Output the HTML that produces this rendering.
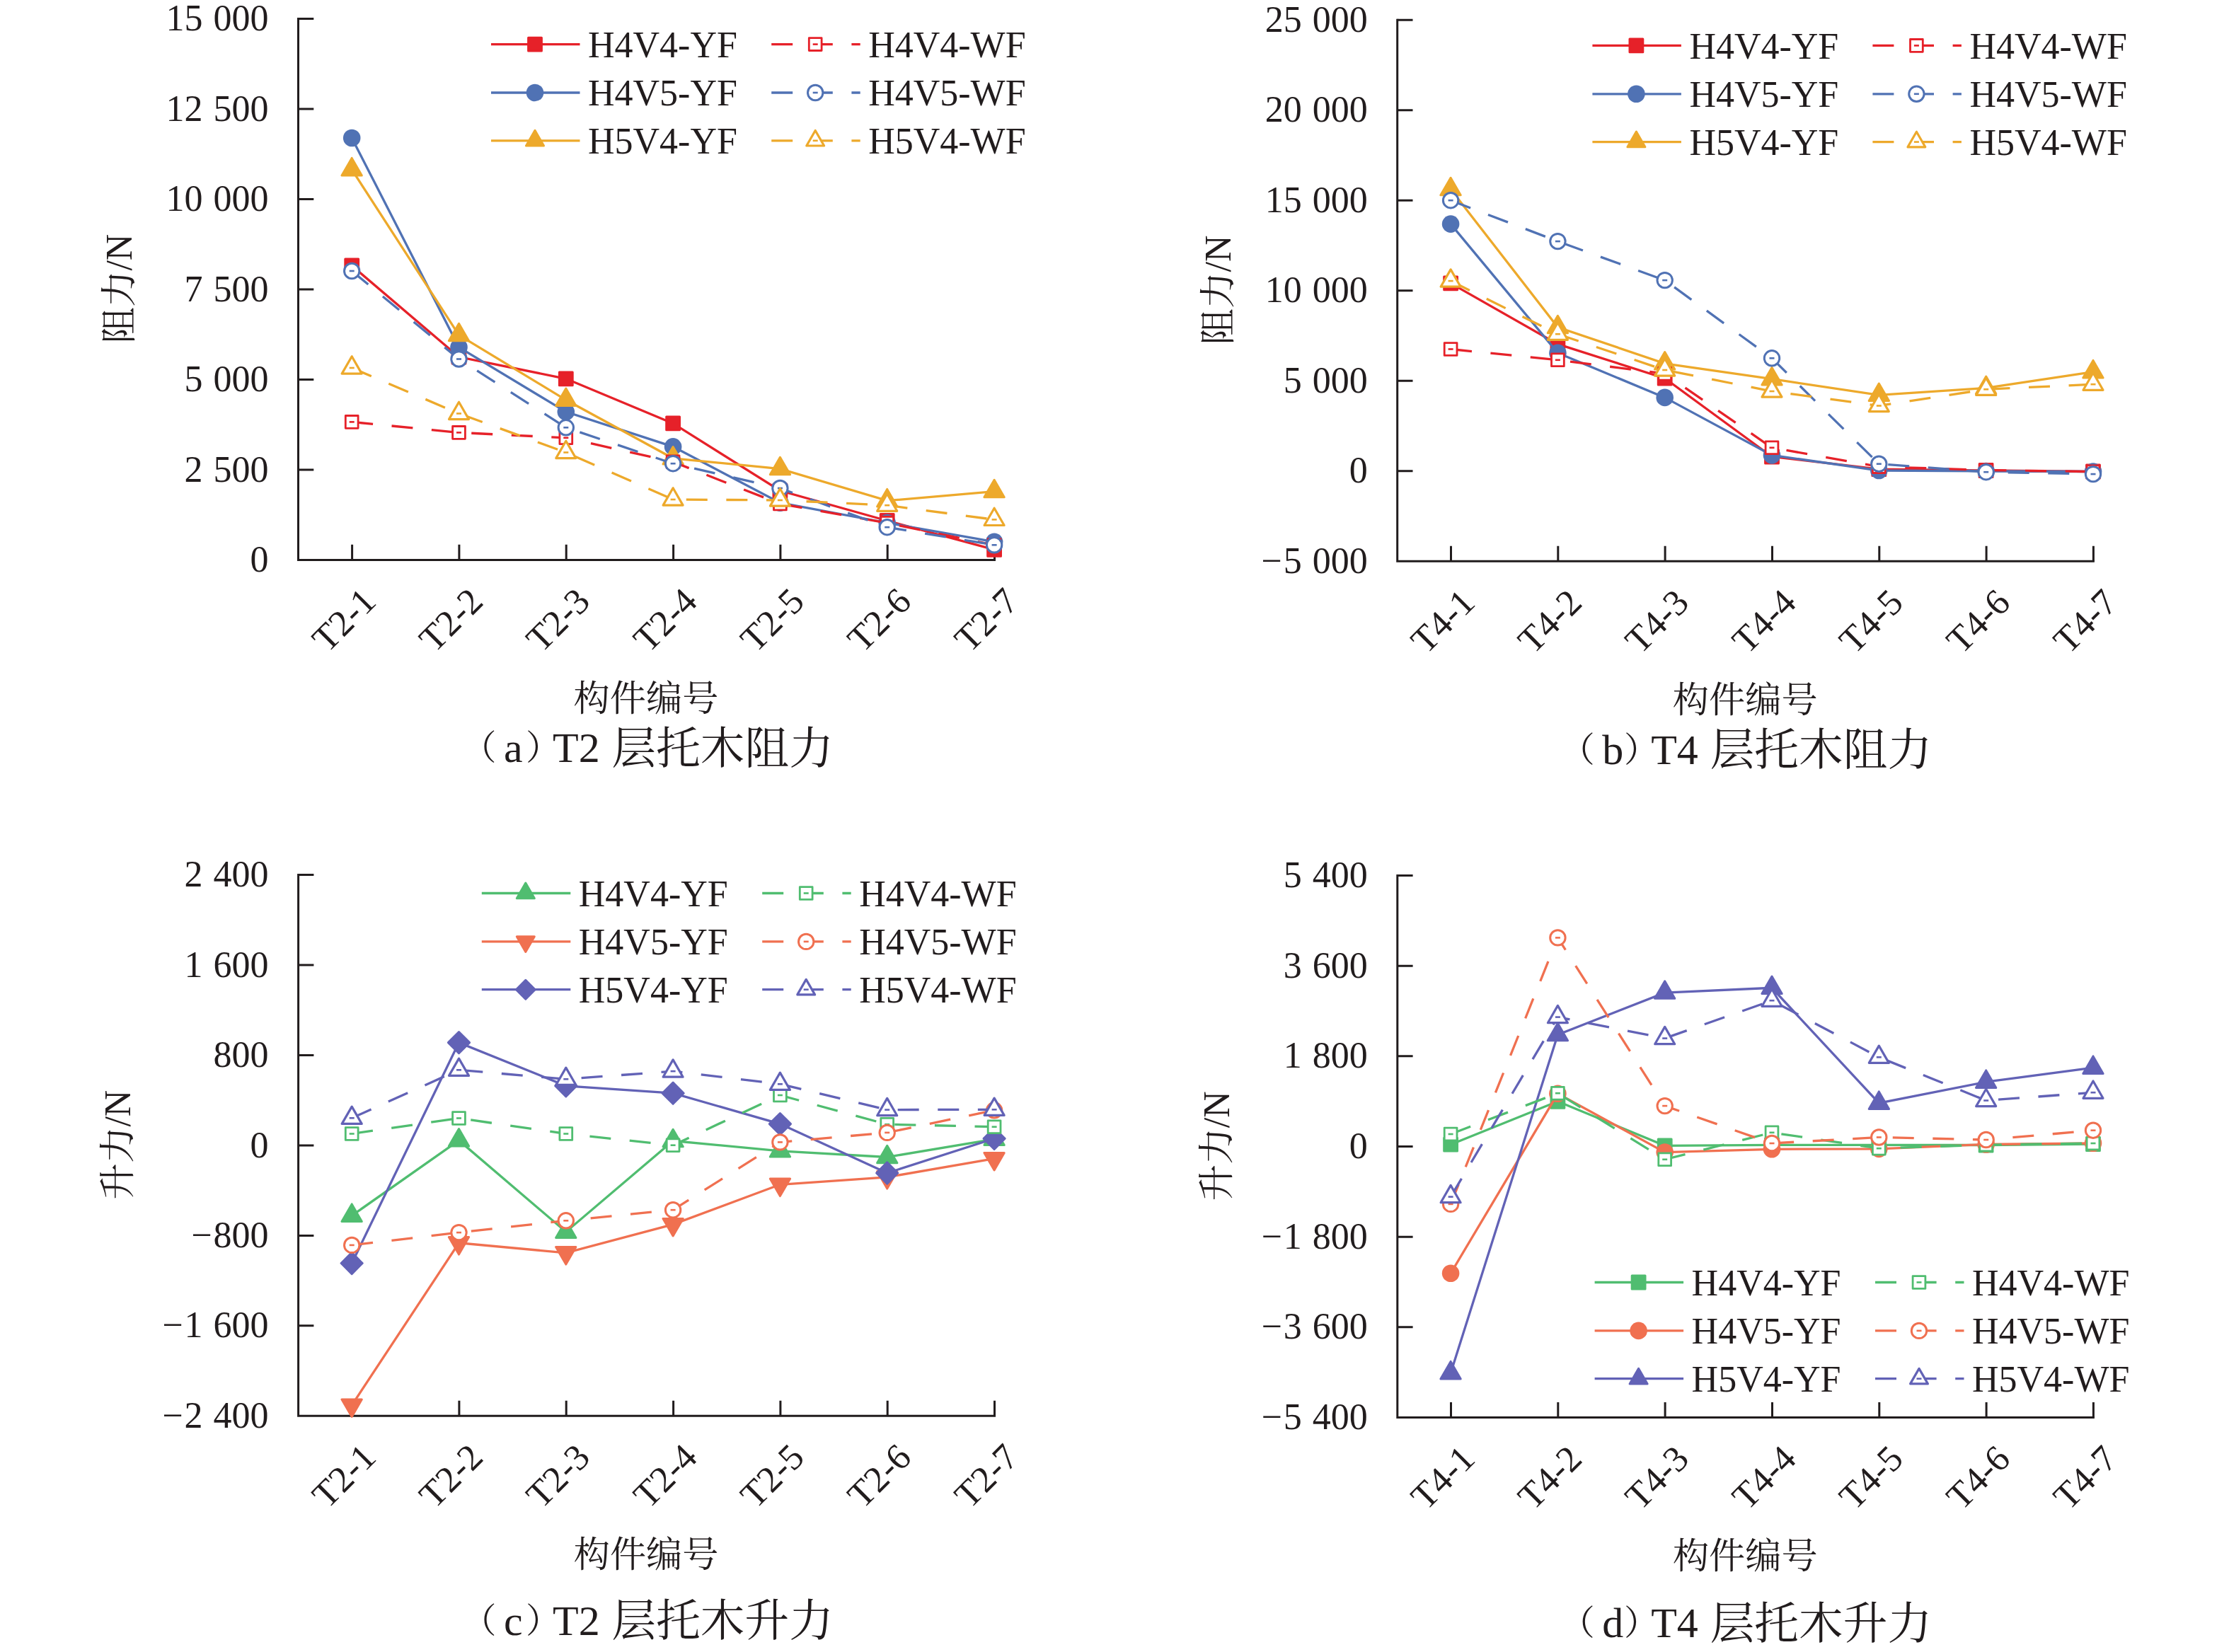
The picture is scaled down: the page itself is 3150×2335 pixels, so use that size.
<!DOCTYPE html>
<html lang="zh"><head><meta charset="utf-8"><title>托木阻力与升力</title>
<style>
html,body{margin:0;padding:0;background:#fff}
svg{display:block}
text{font-family:"Liberation Serif","Noto Serif CJK SC",serif;fill:#211c1d}
</style></head><body>
<svg width="3150" height="2335" viewBox="0 0 3150 2335">
<rect width="3150" height="2335" fill="#fff"/>
<g>
<g stroke="#211c1d" stroke-width="3" fill="none">
<path d="M421.5 25 V791.4 H1407"/>
<path d="M421.5 26.5h21.8M421.5 154h21.8M421.5 281.5h21.8M421.5 408.9h21.8M421.5 536.4h21.8M421.5 663.9h21.8M497.6 791.4v-21.6M648.9 791.4v-21.6M800.2 791.4v-21.6M951.6 791.4v-21.6M1102.9 791.4v-21.6M1254.2 791.4v-21.6M1405.5 791.4v-21.6"/>
</g>
<g font-size="52" text-anchor="end" word-spacing="2">
<text x="379.5" y="43.1">15 000</text>
<text x="379.5" y="170.6">12 500</text>
<text x="379.5" y="298.1">10 000</text>
<text x="379.5" y="425.6">7 500</text>
<text x="379.5" y="553">5 000</text>
<text x="379.5" y="680.5">2 500</text>
<text x="379.5" y="808">0</text>
</g>
<g font-size="52" text-anchor="end">
<text transform="translate(533.9 852.8) rotate(-45)">T2-1</text>
<text transform="translate(685.2 852.8) rotate(-45)">T2-2</text>
<text transform="translate(836.5 852.8) rotate(-45)">T2-3</text>
<text transform="translate(987.9 852.8) rotate(-45)">T2-4</text>
<text transform="translate(1139.2 852.8) rotate(-45)">T2-5</text>
<text transform="translate(1290.5 852.8) rotate(-45)">T2-6</text>
<text transform="translate(1441.8 852.8) rotate(-45)">T2-7</text>
</g>
<text transform="translate(185.6 408.1) rotate(-90)" text-anchor="middle" font-size="51.5">阻力<tspan font-size="52">/N</tspan></text>
<text x="913" y="1004.6" text-anchor="middle" font-size="51.2">构件编号</text>
<text x="652.6" y="1074.3" font-size="49">（</text>
<text x="712" y="1077.3" font-size="60">a</text>
<text x="742.9" y="1074.3" font-size="49">）</text>
<text x="781" y="1077.3" font-size="60">T2</text>
<text x="864.5" y="1078.7" font-size="62.7">层托木阻力</text>
<polyline points="497.2,375.5 648.5,504.5 799.8,535.3 951.1,598.4 1102.4,693.5 1253.7,736 1405.1,776.9" fill="none" stroke="#e62129" stroke-width="3.3"/>
<rect x="487.8" y="366.1" width="18.8" height="18.8" fill="#e62129" stroke="#e62129" stroke-width="3" stroke-linejoin="round"/><rect x="639.1" y="495.1" width="18.8" height="18.8" fill="#e62129" stroke="#e62129" stroke-width="3" stroke-linejoin="round"/><rect x="790.4" y="525.9" width="18.8" height="18.8" fill="#e62129" stroke="#e62129" stroke-width="3" stroke-linejoin="round"/><rect x="941.7" y="589" width="18.8" height="18.8" fill="#e62129" stroke="#e62129" stroke-width="3" stroke-linejoin="round"/><rect x="1093" y="684.1" width="18.8" height="18.8" fill="#e62129" stroke="#e62129" stroke-width="3" stroke-linejoin="round"/><rect x="1244.3" y="726.6" width="18.8" height="18.8" fill="#e62129" stroke="#e62129" stroke-width="3" stroke-linejoin="round"/><rect x="1395.7" y="767.5" width="18.8" height="18.8" fill="#e62129" stroke="#e62129" stroke-width="3" stroke-linejoin="round"/>
<polyline points="497.2,195 648.5,490.8 799.8,582.1 951.1,631.4 1102.4,710.6 1253.7,739 1405.1,765.8" fill="none" stroke="#5072b4" stroke-width="3.3"/>
<circle cx="497.2" cy="195" r="12.3" fill="#5072b4"/><circle cx="648.5" cy="490.8" r="12.3" fill="#5072b4"/><circle cx="799.8" cy="582.1" r="12.3" fill="#5072b4"/><circle cx="951.1" cy="631.4" r="12.3" fill="#5072b4"/><circle cx="1102.4" cy="710.6" r="12.3" fill="#5072b4"/><circle cx="1253.7" cy="739" r="12.3" fill="#5072b4"/><circle cx="1405.1" cy="765.8" r="12.3" fill="#5072b4"/>
<polyline points="497.2,239.7 648.5,473.6 799.8,565.3 951.1,647.8 1102.4,662.6 1253.7,707.7 1405.1,694.6" fill="none" stroke="#eda92b" stroke-width="3.3"/>
<polygon points="497.2,223.4 483,247.9 511.3,247.9" fill="#eda92b" stroke="#eda92b" stroke-width="3" stroke-linejoin="round"/><polygon points="648.5,457.3 634.3,481.8 662.6,481.8" fill="#eda92b" stroke="#eda92b" stroke-width="3" stroke-linejoin="round"/><polygon points="799.8,549 785.6,573.5 813.9,573.5" fill="#eda92b" stroke="#eda92b" stroke-width="3" stroke-linejoin="round"/><polygon points="951.1,631.5 937,656 965.3,656" fill="#eda92b" stroke="#eda92b" stroke-width="3" stroke-linejoin="round"/><polygon points="1102.4,646.3 1088.3,670.8 1116.6,670.8" fill="#eda92b" stroke="#eda92b" stroke-width="3" stroke-linejoin="round"/><polygon points="1253.7,691.4 1239.6,715.9 1267.9,715.9" fill="#eda92b" stroke="#eda92b" stroke-width="3" stroke-linejoin="round"/><polygon points="1405.1,678.3 1390.9,702.8 1419.2,702.8" fill="#eda92b" stroke="#eda92b" stroke-width="3" stroke-linejoin="round"/>
<polyline points="497.2,596.4 648.5,611.4 799.8,618.8 951.1,652.8 1102.4,712 1253.7,739.3 1405.1,770.5" fill="none" stroke="#e62129" stroke-width="3.3" stroke-dasharray="30 26.6"/>
<rect x="488.3" y="587.5" width="17.8" height="17.8" fill="#fff" stroke="#e62129" stroke-width="2.8" stroke-linejoin="round"/><rect x="493.7" y="595.1" width="7" height="2.6" fill="#e62129"/><rect x="639.6" y="602.5" width="17.8" height="17.8" fill="#fff" stroke="#e62129" stroke-width="2.8" stroke-linejoin="round"/><rect x="645" y="610.1" width="7" height="2.6" fill="#e62129"/><rect x="790.9" y="609.9" width="17.8" height="17.8" fill="#fff" stroke="#e62129" stroke-width="2.8" stroke-linejoin="round"/><rect x="796.3" y="617.5" width="7" height="2.6" fill="#e62129"/><rect x="942.2" y="643.9" width="17.8" height="17.8" fill="#fff" stroke="#e62129" stroke-width="2.8" stroke-linejoin="round"/><rect x="947.6" y="651.5" width="7" height="2.6" fill="#e62129"/><rect x="1093.5" y="703.1" width="17.8" height="17.8" fill="#fff" stroke="#e62129" stroke-width="2.8" stroke-linejoin="round"/><rect x="1098.9" y="710.7" width="7" height="2.6" fill="#e62129"/><rect x="1244.8" y="730.4" width="17.8" height="17.8" fill="#fff" stroke="#e62129" stroke-width="2.8" stroke-linejoin="round"/><rect x="1250.2" y="738" width="7" height="2.6" fill="#e62129"/><rect x="1396.2" y="761.6" width="17.8" height="17.8" fill="#fff" stroke="#e62129" stroke-width="2.8" stroke-linejoin="round"/><rect x="1401.6" y="769.2" width="7" height="2.6" fill="#e62129"/>
<polyline points="497.2,383 648.5,507.5 799.8,604.3 951.1,655.2 1102.4,690 1253.7,745.2 1405.1,770.3" fill="none" stroke="#5072b4" stroke-width="3.3" stroke-dasharray="30 26.6"/>
<circle cx="497.2" cy="383" r="10.7" fill="#fff" stroke="#5072b4" stroke-width="3"/><rect x="493.7" y="381.7" width="7" height="2.6" fill="#5072b4"/><circle cx="648.5" cy="507.5" r="10.7" fill="#fff" stroke="#5072b4" stroke-width="3"/><rect x="645" y="506.2" width="7" height="2.6" fill="#5072b4"/><circle cx="799.8" cy="604.3" r="10.7" fill="#fff" stroke="#5072b4" stroke-width="3"/><rect x="796.3" y="603" width="7" height="2.6" fill="#5072b4"/><circle cx="951.1" cy="655.2" r="10.7" fill="#fff" stroke="#5072b4" stroke-width="3"/><rect x="947.6" y="653.9" width="7" height="2.6" fill="#5072b4"/><circle cx="1102.4" cy="690" r="10.7" fill="#fff" stroke="#5072b4" stroke-width="3"/><rect x="1098.9" y="688.7" width="7" height="2.6" fill="#5072b4"/><circle cx="1253.7" cy="745.2" r="10.7" fill="#fff" stroke="#5072b4" stroke-width="3"/><rect x="1250.2" y="743.9" width="7" height="2.6" fill="#5072b4"/><circle cx="1405.1" cy="770.3" r="10.7" fill="#fff" stroke="#5072b4" stroke-width="3"/><rect x="1401.6" y="769" width="7" height="2.6" fill="#5072b4"/>
<polyline points="497.2,520 648.5,584.5 799.8,639.5 951.1,706 1102.4,707 1253.7,714.2 1405.1,734.4" fill="none" stroke="#eda92b" stroke-width="3.3" stroke-dasharray="30 26.6"/>
<polygon points="497.2,503.8 483.2,528.1 511.2,528.1" fill="#fff" stroke="#eda92b" stroke-width="3.2" stroke-linejoin="round"/><rect x="493.7" y="518.7" width="7" height="2.6" fill="#eda92b"/><polygon points="648.5,568.3 634.5,592.6 662.5,592.6" fill="#fff" stroke="#eda92b" stroke-width="3.2" stroke-linejoin="round"/><rect x="645" y="583.2" width="7" height="2.6" fill="#eda92b"/><polygon points="799.8,623.3 785.8,647.6 813.8,647.6" fill="#fff" stroke="#eda92b" stroke-width="3.2" stroke-linejoin="round"/><rect x="796.3" y="638.2" width="7" height="2.6" fill="#eda92b"/><polygon points="951.1,689.8 937.1,714.1 965.1,714.1" fill="#fff" stroke="#eda92b" stroke-width="3.2" stroke-linejoin="round"/><rect x="947.6" y="704.7" width="7" height="2.6" fill="#eda92b"/><polygon points="1102.4,690.8 1088.4,715.1 1116.4,715.1" fill="#fff" stroke="#eda92b" stroke-width="3.2" stroke-linejoin="round"/><rect x="1098.9" y="705.7" width="7" height="2.6" fill="#eda92b"/><polygon points="1253.7,698 1239.7,722.3 1267.7,722.3" fill="#fff" stroke="#eda92b" stroke-width="3.2" stroke-linejoin="round"/><rect x="1250.2" y="712.9" width="7" height="2.6" fill="#eda92b"/><polygon points="1405.1,718.2 1391.1,742.5 1419.1,742.5" fill="#fff" stroke="#eda92b" stroke-width="3.2" stroke-linejoin="round"/><rect x="1401.6" y="733.1" width="7" height="2.6" fill="#eda92b"/>
<g font-size="52">
<path d="M694 62.6h125.5" stroke="#e62129" stroke-width="3.3"/>
<rect x="746.6" y="53.2" width="18.8" height="18.8" fill="#e62129" stroke="#e62129" stroke-width="3" stroke-linejoin="round"/>
<text x="831" y="80.9">H4V4-YF</text>
<path d="M694 131h125.5" stroke="#5072b4" stroke-width="3.3"/>
<circle cx="756" cy="131" r="12.3" fill="#5072b4"/>
<text x="831" y="149.3">H4V5-YF</text>
<path d="M694 198.8h125.5" stroke="#eda92b" stroke-width="3.3"/>
<polygon points="756,184.3 743.5,206 768.5,206" fill="#eda92b" stroke="#eda92b" stroke-width="3" stroke-linejoin="round"/>
<text x="831" y="217.1">H5V4-YF</text>
<path d="M1090.2 62.6h125.5" stroke="#e62129" stroke-width="3.3" stroke-dasharray="30 26.6"/>
<rect x="1143.3" y="53.7" width="17.8" height="17.8" fill="#fff" stroke="#e62129" stroke-width="2.8" stroke-linejoin="round"/><rect x="1148.7" y="61.3" width="7" height="2.6" fill="#e62129"/>
<text x="1227.2" y="80.9">H4V4-WF</text>
<path d="M1090.2 131h125.5" stroke="#5072b4" stroke-width="3.3" stroke-dasharray="30 26.6"/>
<circle cx="1152.2" cy="131" r="10.7" fill="#fff" stroke="#5072b4" stroke-width="3"/><rect x="1148.7" y="129.7" width="7" height="2.6" fill="#5072b4"/>
<text x="1227.2" y="149.3">H4V5-WF</text>
<path d="M1090.2 198.8h125.5" stroke="#eda92b" stroke-width="3.3" stroke-dasharray="30 26.6"/>
<polygon points="1152.2,184.5 1139.8,206 1164.6,206" fill="#fff" stroke="#eda92b" stroke-width="3.2" stroke-linejoin="round"/><rect x="1148.7" y="197.5" width="7" height="2.6" fill="#eda92b"/>
<text x="1227.2" y="217.1">H5V4-WF</text>
</g>
</g>
<g>
<g stroke="#211c1d" stroke-width="3" fill="none">
<path d="M1974.7 26.8 V793.3 H2959.9"/>
<path d="M1974.7 28.3h21.8M1974.7 155.8h21.8M1974.7 283.3h21.8M1974.7 410.8h21.8M1974.7 538.3h21.8M1974.7 665.8h21.8M2050.5 793.3v-21.6M2201.8 793.3v-21.6M2353.1 793.3v-21.6M2504.5 793.3v-21.6M2655.8 793.3v-21.6M2807.1 793.3v-21.6M2958.4 793.3v-21.6"/>
</g>
<g font-size="52" text-anchor="end" word-spacing="2">
<text x="1932.7" y="44.9">25 000</text>
<text x="1932.7" y="172.4">20 000</text>
<text x="1932.7" y="299.9">15 000</text>
<text x="1932.7" y="427.4">10 000</text>
<text x="1932.7" y="554.9">5 000</text>
<text x="1932.7" y="682.4">0</text>
<text x="1932.7" y="809.9"><tspan letter-spacing="2">−</tspan>5 000</text>
</g>
<g font-size="52" text-anchor="end">
<text transform="translate(2086.8 854.7) rotate(-45)">T4-1</text>
<text transform="translate(2238.1 854.7) rotate(-45)">T4-2</text>
<text transform="translate(2389.4 854.7) rotate(-45)">T4-3</text>
<text transform="translate(2540.8 854.7) rotate(-45)">T4-4</text>
<text transform="translate(2692.1 854.7) rotate(-45)">T4-5</text>
<text transform="translate(2843.4 854.7) rotate(-45)">T4-6</text>
<text transform="translate(2994.7 854.7) rotate(-45)">T4-7</text>
</g>
<text transform="translate(1738.8 410) rotate(-90)" text-anchor="middle" font-size="51.5">阻力<tspan font-size="52">/N</tspan></text>
<text x="2466.2" y="1007.1" text-anchor="middle" font-size="51.2">构件编号</text>
<text x="2204.8" y="1076.5" font-size="49">（</text>
<text x="2264.2" y="1079.5" font-size="60">b</text>
<text x="2295.1" y="1076.5" font-size="49">）</text>
<text x="2333.2" y="1079.5" font-size="60">T4</text>
<text x="2416.7" y="1080.9" font-size="62.7">层托木阻力</text>
<polyline points="2050.1,400.4 2201.4,486.4 2352.7,534.7 2504,645.5 2655.3,663.2 2806.7,665 2958,666.5" fill="none" stroke="#e62129" stroke-width="3.3"/>
<rect x="2040.7" y="391" width="18.8" height="18.8" fill="#e62129" stroke="#e62129" stroke-width="3" stroke-linejoin="round"/><rect x="2192" y="477" width="18.8" height="18.8" fill="#e62129" stroke="#e62129" stroke-width="3" stroke-linejoin="round"/><rect x="2343.3" y="525.3" width="18.8" height="18.8" fill="#e62129" stroke="#e62129" stroke-width="3" stroke-linejoin="round"/><rect x="2494.6" y="636.1" width="18.8" height="18.8" fill="#e62129" stroke="#e62129" stroke-width="3" stroke-linejoin="round"/><rect x="2645.9" y="653.8" width="18.8" height="18.8" fill="#e62129" stroke="#e62129" stroke-width="3" stroke-linejoin="round"/><rect x="2797.2" y="655.6" width="18.8" height="18.8" fill="#e62129" stroke="#e62129" stroke-width="3" stroke-linejoin="round"/><rect x="2948.6" y="657.1" width="18.8" height="18.8" fill="#e62129" stroke="#e62129" stroke-width="3" stroke-linejoin="round"/>
<polyline points="2050.1,316.6 2201.4,498.9 2352.7,561.9 2504,643.4 2655.3,665 2806.7,666 2958,666.5" fill="none" stroke="#5072b4" stroke-width="3.3"/>
<circle cx="2050.1" cy="316.6" r="12.3" fill="#5072b4"/><circle cx="2201.4" cy="498.9" r="12.3" fill="#5072b4"/><circle cx="2352.7" cy="561.9" r="12.3" fill="#5072b4"/><circle cx="2504" cy="643.4" r="12.3" fill="#5072b4"/><circle cx="2655.3" cy="665" r="12.3" fill="#5072b4"/><circle cx="2806.7" cy="666" r="12.3" fill="#5072b4"/><circle cx="2958" cy="666.5" r="12.3" fill="#5072b4"/>
<polyline points="2050.1,267.6 2201.4,462.5 2352.7,513.8 2504,535.7 2655.3,558.4 2806.7,548.4 2958,525.7" fill="none" stroke="#eda92b" stroke-width="3.3"/>
<polygon points="2050.1,251.3 2035.9,275.8 2064.2,275.8" fill="#eda92b" stroke="#eda92b" stroke-width="3" stroke-linejoin="round"/><polygon points="2201.4,446.2 2187.2,470.7 2215.5,470.7" fill="#eda92b" stroke="#eda92b" stroke-width="3" stroke-linejoin="round"/><polygon points="2352.7,497.5 2338.5,522 2366.8,522" fill="#eda92b" stroke="#eda92b" stroke-width="3" stroke-linejoin="round"/><polygon points="2504,519.4 2489.9,543.9 2518.2,543.9" fill="#eda92b" stroke="#eda92b" stroke-width="3" stroke-linejoin="round"/><polygon points="2655.3,542.1 2641.2,566.6 2669.5,566.6" fill="#eda92b" stroke="#eda92b" stroke-width="3" stroke-linejoin="round"/><polygon points="2806.7,532.1 2792.5,556.6 2820.8,556.6" fill="#eda92b" stroke="#eda92b" stroke-width="3" stroke-linejoin="round"/><polygon points="2958,509.4 2943.8,533.9 2972.1,533.9" fill="#eda92b" stroke="#eda92b" stroke-width="3" stroke-linejoin="round"/>
<polyline points="2050.1,493.5 2201.4,508.8 2352.7,528.2 2504,632.8 2655.3,659.6 2806.7,664.5 2958,666.7" fill="none" stroke="#e62129" stroke-width="3.3" stroke-dasharray="30 26.6"/>
<rect x="2041.2" y="484.6" width="17.8" height="17.8" fill="#fff" stroke="#e62129" stroke-width="2.8" stroke-linejoin="round"/><rect x="2046.6" y="492.2" width="7" height="2.6" fill="#e62129"/><rect x="2192.5" y="499.9" width="17.8" height="17.8" fill="#fff" stroke="#e62129" stroke-width="2.8" stroke-linejoin="round"/><rect x="2197.9" y="507.5" width="7" height="2.6" fill="#e62129"/><rect x="2343.8" y="519.3" width="17.8" height="17.8" fill="#fff" stroke="#e62129" stroke-width="2.8" stroke-linejoin="round"/><rect x="2349.2" y="526.9" width="7" height="2.6" fill="#e62129"/><rect x="2495.1" y="623.9" width="17.8" height="17.8" fill="#fff" stroke="#e62129" stroke-width="2.8" stroke-linejoin="round"/><rect x="2500.5" y="631.5" width="7" height="2.6" fill="#e62129"/><rect x="2646.4" y="650.7" width="17.8" height="17.8" fill="#fff" stroke="#e62129" stroke-width="2.8" stroke-linejoin="round"/><rect x="2651.8" y="658.3" width="7" height="2.6" fill="#e62129"/><rect x="2797.8" y="655.6" width="17.8" height="17.8" fill="#fff" stroke="#e62129" stroke-width="2.8" stroke-linejoin="round"/><rect x="2803.2" y="663.2" width="7" height="2.6" fill="#e62129"/><rect x="2949.1" y="657.8" width="17.8" height="17.8" fill="#fff" stroke="#e62129" stroke-width="2.8" stroke-linejoin="round"/><rect x="2954.5" y="665.4" width="7" height="2.6" fill="#e62129"/>
<polyline points="2050.1,283.2 2201.4,341.1 2352.7,396.1 2504,506.3 2655.3,655.7 2806.7,667.2 2958,670.1" fill="none" stroke="#5072b4" stroke-width="3.3" stroke-dasharray="30 26.6"/>
<circle cx="2050.1" cy="283.2" r="10.7" fill="#fff" stroke="#5072b4" stroke-width="3"/><rect x="2046.6" y="281.9" width="7" height="2.6" fill="#5072b4"/><circle cx="2201.4" cy="341.1" r="10.7" fill="#fff" stroke="#5072b4" stroke-width="3"/><rect x="2197.9" y="339.8" width="7" height="2.6" fill="#5072b4"/><circle cx="2352.7" cy="396.1" r="10.7" fill="#fff" stroke="#5072b4" stroke-width="3"/><rect x="2349.2" y="394.8" width="7" height="2.6" fill="#5072b4"/><circle cx="2504" cy="506.3" r="10.7" fill="#fff" stroke="#5072b4" stroke-width="3"/><rect x="2500.5" y="505" width="7" height="2.6" fill="#5072b4"/><circle cx="2655.3" cy="655.7" r="10.7" fill="#fff" stroke="#5072b4" stroke-width="3"/><rect x="2651.8" y="654.4" width="7" height="2.6" fill="#5072b4"/><circle cx="2806.7" cy="667.2" r="10.7" fill="#fff" stroke="#5072b4" stroke-width="3"/><rect x="2803.2" y="665.9" width="7" height="2.6" fill="#5072b4"/><circle cx="2958" cy="670.1" r="10.7" fill="#fff" stroke="#5072b4" stroke-width="3"/><rect x="2954.5" y="668.8" width="7" height="2.6" fill="#5072b4"/>
<polyline points="2050.1,397.1 2201.4,472.2 2352.7,523 2504,553 2655.3,573.5 2806.7,550.3 2958,543.2" fill="none" stroke="#eda92b" stroke-width="3.3" stroke-dasharray="30 26.6"/>
<polygon points="2050.1,380.9 2036.1,405.2 2064.1,405.2" fill="#fff" stroke="#eda92b" stroke-width="3.2" stroke-linejoin="round"/><rect x="2046.6" y="395.8" width="7" height="2.6" fill="#eda92b"/><polygon points="2201.4,456 2187.4,480.3 2215.4,480.3" fill="#fff" stroke="#eda92b" stroke-width="3.2" stroke-linejoin="round"/><rect x="2197.9" y="470.9" width="7" height="2.6" fill="#eda92b"/><polygon points="2352.7,506.8 2338.7,531.1 2366.7,531.1" fill="#fff" stroke="#eda92b" stroke-width="3.2" stroke-linejoin="round"/><rect x="2349.2" y="521.7" width="7" height="2.6" fill="#eda92b"/><polygon points="2504,536.8 2490,561.1 2518,561.1" fill="#fff" stroke="#eda92b" stroke-width="3.2" stroke-linejoin="round"/><rect x="2500.5" y="551.7" width="7" height="2.6" fill="#eda92b"/><polygon points="2655.3,557.3 2641.3,581.6 2669.3,581.6" fill="#fff" stroke="#eda92b" stroke-width="3.2" stroke-linejoin="round"/><rect x="2651.8" y="572.2" width="7" height="2.6" fill="#eda92b"/><polygon points="2806.7,534.1 2792.7,558.4 2820.7,558.4" fill="#fff" stroke="#eda92b" stroke-width="3.2" stroke-linejoin="round"/><rect x="2803.2" y="549" width="7" height="2.6" fill="#eda92b"/><polygon points="2958,527 2944,551.3 2972,551.3" fill="#fff" stroke="#eda92b" stroke-width="3.2" stroke-linejoin="round"/><rect x="2954.5" y="541.9" width="7" height="2.6" fill="#eda92b"/>
<g font-size="52">
<path d="M2250.4 64.4h125.5" stroke="#e62129" stroke-width="3.3"/>
<rect x="2303" y="55" width="18.8" height="18.8" fill="#e62129" stroke="#e62129" stroke-width="3" stroke-linejoin="round"/>
<text x="2387.4" y="82.7">H4V4-YF</text>
<path d="M2250.4 132.8h125.5" stroke="#5072b4" stroke-width="3.3"/>
<circle cx="2312.4" cy="132.8" r="12.3" fill="#5072b4"/>
<text x="2387.4" y="151.1">H4V5-YF</text>
<path d="M2250.4 200.6h125.5" stroke="#eda92b" stroke-width="3.3"/>
<polygon points="2312.4,186.1 2299.9,207.8 2324.9,207.8" fill="#eda92b" stroke="#eda92b" stroke-width="3" stroke-linejoin="round"/>
<text x="2387.4" y="218.9">H5V4-YF</text>
<path d="M2646.4 64.4h125.5" stroke="#e62129" stroke-width="3.3" stroke-dasharray="30 26.6"/>
<rect x="2699.5" y="55.5" width="17.8" height="17.8" fill="#fff" stroke="#e62129" stroke-width="2.8" stroke-linejoin="round"/><rect x="2704.9" y="63.1" width="7" height="2.6" fill="#e62129"/>
<text x="2783.4" y="82.7">H4V4-WF</text>
<path d="M2646.4 132.8h125.5" stroke="#5072b4" stroke-width="3.3" stroke-dasharray="30 26.6"/>
<circle cx="2708.4" cy="132.8" r="10.7" fill="#fff" stroke="#5072b4" stroke-width="3"/><rect x="2704.9" y="131.5" width="7" height="2.6" fill="#5072b4"/>
<text x="2783.4" y="151.1">H4V5-WF</text>
<path d="M2646.4 200.6h125.5" stroke="#eda92b" stroke-width="3.3" stroke-dasharray="30 26.6"/>
<polygon points="2708.4,186.3 2696,207.8 2720.8,207.8" fill="#fff" stroke="#eda92b" stroke-width="3.2" stroke-linejoin="round"/><rect x="2704.9" y="199.3" width="7" height="2.6" fill="#eda92b"/>
<text x="2783.4" y="218.9">H5V4-WF</text>
</g>
</g>
<g>
<g stroke="#211c1d" stroke-width="3" fill="none">
<path d="M421.6 1235.1 V2001.3 H1407"/>
<path d="M421.6 1236.6h21.8M421.6 1364h21.8M421.6 1491.5h21.8M421.6 1619h21.8M421.6 1746.4h21.8M421.6 1873.8h21.8M497.6 2001.3v-21.6M648.9 2001.3v-21.6M800.2 2001.3v-21.6M951.6 2001.3v-21.6M1102.9 2001.3v-21.6M1254.2 2001.3v-21.6M1405.5 2001.3v-21.6"/>
</g>
<g font-size="52" text-anchor="end" word-spacing="2">
<text x="379.6" y="1253.2">2 400</text>
<text x="379.6" y="1380.6">1 600</text>
<text x="379.6" y="1508.1">800</text>
<text x="379.6" y="1635.5">0</text>
<text x="379.6" y="1763"><tspan letter-spacing="2">−</tspan>800</text>
<text x="379.6" y="1890.4"><tspan letter-spacing="2">−</tspan>1 600</text>
<text x="379.6" y="2017.9"><tspan letter-spacing="2">−</tspan>2 400</text>
</g>
<g font-size="52" text-anchor="end">
<text transform="translate(533.9 2062.7) rotate(-45)">T2-1</text>
<text transform="translate(685.2 2062.7) rotate(-45)">T2-2</text>
<text transform="translate(836.5 2062.7) rotate(-45)">T2-3</text>
<text transform="translate(987.9 2062.7) rotate(-45)">T2-4</text>
<text transform="translate(1139.2 2062.7) rotate(-45)">T2-5</text>
<text transform="translate(1290.5 2062.7) rotate(-45)">T2-6</text>
<text transform="translate(1441.8 2062.7) rotate(-45)">T2-7</text>
</g>
<text transform="translate(183.7 1618.1) rotate(-90)" text-anchor="middle" font-size="51.5">升力<tspan font-size="52">/N</tspan></text>
<text x="913.1" y="2214.6" text-anchor="middle" font-size="51.2">构件编号</text>
<text x="652.6" y="2307.8" font-size="49">（</text>
<text x="712" y="2310.8" font-size="60">c</text>
<text x="742.9" y="2307.8" font-size="49">）</text>
<text x="781" y="2310.8" font-size="60">T2</text>
<text x="864.5" y="2312.2" font-size="62.7">层托木升力</text>
<polyline points="497.2,1718.2 648.5,1611.9 799.8,1741.2 951.1,1612.5 1102.4,1626.9 1253.7,1635.5 1405.1,1610.2" fill="none" stroke="#50bd70" stroke-width="3.3"/>
<polygon points="497.2,1701.9 483,1726.4 511.3,1726.4" fill="#50bd70" stroke="#50bd70" stroke-width="3" stroke-linejoin="round"/><polygon points="648.5,1595.6 634.3,1620.1 662.6,1620.1" fill="#50bd70" stroke="#50bd70" stroke-width="3" stroke-linejoin="round"/><polygon points="799.8,1724.9 785.6,1749.4 813.9,1749.4" fill="#50bd70" stroke="#50bd70" stroke-width="3" stroke-linejoin="round"/><polygon points="951.1,1596.2 937,1620.7 965.3,1620.7" fill="#50bd70" stroke="#50bd70" stroke-width="3" stroke-linejoin="round"/><polygon points="1102.4,1610.6 1088.3,1635.1 1116.6,1635.1" fill="#50bd70" stroke="#50bd70" stroke-width="3" stroke-linejoin="round"/><polygon points="1253.7,1619.2 1239.6,1643.7 1267.9,1643.7" fill="#50bd70" stroke="#50bd70" stroke-width="3" stroke-linejoin="round"/><polygon points="1405.1,1593.9 1390.9,1618.4 1419.2,1618.4" fill="#50bd70" stroke="#50bd70" stroke-width="3" stroke-linejoin="round"/>
<polyline points="497.2,1986.2 648.5,1756.8 799.8,1770.8 951.1,1730.6 1102.4,1674.3 1253.7,1663.8 1405.1,1637.6" fill="none" stroke="#f07050" stroke-width="3.3"/>
<polygon points="497.2,2002.5 483,1978 511.3,1978" fill="#f07050" stroke="#f07050" stroke-width="3" stroke-linejoin="round"/><polygon points="648.5,1773.1 634.3,1748.6 662.6,1748.6" fill="#f07050" stroke="#f07050" stroke-width="3" stroke-linejoin="round"/><polygon points="799.8,1787.1 785.6,1762.6 813.9,1762.6" fill="#f07050" stroke="#f07050" stroke-width="3" stroke-linejoin="round"/><polygon points="951.1,1746.9 937,1722.4 965.3,1722.4" fill="#f07050" stroke="#f07050" stroke-width="3" stroke-linejoin="round"/><polygon points="1102.4,1690.6 1088.3,1666.1 1116.6,1666.1" fill="#f07050" stroke="#f07050" stroke-width="3" stroke-linejoin="round"/><polygon points="1253.7,1680.1 1239.6,1655.6 1267.9,1655.6" fill="#f07050" stroke="#f07050" stroke-width="3" stroke-linejoin="round"/><polygon points="1405.1,1653.9 1390.9,1629.4 1419.2,1629.4" fill="#f07050" stroke="#f07050" stroke-width="3" stroke-linejoin="round"/>
<polyline points="497.2,1785.5 648.5,1473.6 799.8,1534.8 951.1,1545.2 1102.4,1588.6 1253.7,1658 1405.1,1609.3" fill="none" stroke="#6262b6" stroke-width="3.3"/>
<polygon points="497.2,1770.4 512.2,1785.5 497.2,1800.6 482.1,1785.5" fill="#6262b6" stroke="#6262b6" stroke-width="3" stroke-linejoin="round"/><polygon points="648.5,1458.5 663.6,1473.6 648.5,1488.7 633.4,1473.6" fill="#6262b6" stroke="#6262b6" stroke-width="3" stroke-linejoin="round"/><polygon points="799.8,1519.7 814.9,1534.8 799.8,1549.9 784.7,1534.8" fill="#6262b6" stroke="#6262b6" stroke-width="3" stroke-linejoin="round"/><polygon points="951.1,1530.1 966.2,1545.2 951.1,1560.3 936,1545.2" fill="#6262b6" stroke="#6262b6" stroke-width="3" stroke-linejoin="round"/><polygon points="1102.4,1573.5 1117.5,1588.6 1102.4,1603.7 1087.3,1588.6" fill="#6262b6" stroke="#6262b6" stroke-width="3" stroke-linejoin="round"/><polygon points="1253.7,1642.9 1268.8,1658 1253.7,1673.1 1238.6,1658" fill="#6262b6" stroke="#6262b6" stroke-width="3" stroke-linejoin="round"/><polygon points="1405.1,1594.2 1420.2,1609.3 1405.1,1624.4 1390,1609.3" fill="#6262b6" stroke="#6262b6" stroke-width="3" stroke-linejoin="round"/>
<polyline points="497.2,1602.5 648.5,1580.5 799.8,1602.5 951.1,1618.7 1102.4,1548 1253.7,1589.2 1405.1,1592.7" fill="none" stroke="#50bd70" stroke-width="3.3" stroke-dasharray="30 26.6"/>
<rect x="488.3" y="1593.6" width="17.8" height="17.8" fill="#fff" stroke="#50bd70" stroke-width="2.8" stroke-linejoin="round"/><rect x="493.7" y="1601.2" width="7" height="2.6" fill="#50bd70"/><rect x="639.6" y="1571.6" width="17.8" height="17.8" fill="#fff" stroke="#50bd70" stroke-width="2.8" stroke-linejoin="round"/><rect x="645" y="1579.2" width="7" height="2.6" fill="#50bd70"/><rect x="790.9" y="1593.6" width="17.8" height="17.8" fill="#fff" stroke="#50bd70" stroke-width="2.8" stroke-linejoin="round"/><rect x="796.3" y="1601.2" width="7" height="2.6" fill="#50bd70"/><rect x="942.2" y="1609.8" width="17.8" height="17.8" fill="#fff" stroke="#50bd70" stroke-width="2.8" stroke-linejoin="round"/><rect x="947.6" y="1617.4" width="7" height="2.6" fill="#50bd70"/><rect x="1093.5" y="1539.1" width="17.8" height="17.8" fill="#fff" stroke="#50bd70" stroke-width="2.8" stroke-linejoin="round"/><rect x="1098.9" y="1546.7" width="7" height="2.6" fill="#50bd70"/><rect x="1244.8" y="1580.3" width="17.8" height="17.8" fill="#fff" stroke="#50bd70" stroke-width="2.8" stroke-linejoin="round"/><rect x="1250.2" y="1587.9" width="7" height="2.6" fill="#50bd70"/><rect x="1396.2" y="1583.8" width="17.8" height="17.8" fill="#fff" stroke="#50bd70" stroke-width="2.8" stroke-linejoin="round"/><rect x="1401.6" y="1591.4" width="7" height="2.6" fill="#50bd70"/>
<polyline points="497.2,1759.9 648.5,1742.1 799.8,1725.3 951.1,1710.2 1102.4,1614.4 1253.7,1600.9 1405.1,1569.3" fill="none" stroke="#f07050" stroke-width="3.3" stroke-dasharray="30 26.6"/>
<circle cx="497.2" cy="1759.9" r="10.7" fill="#fff" stroke="#f07050" stroke-width="3"/><rect x="493.7" y="1758.6" width="7" height="2.6" fill="#f07050"/><circle cx="648.5" cy="1742.1" r="10.7" fill="#fff" stroke="#f07050" stroke-width="3"/><rect x="645" y="1740.8" width="7" height="2.6" fill="#f07050"/><circle cx="799.8" cy="1725.3" r="10.7" fill="#fff" stroke="#f07050" stroke-width="3"/><rect x="796.3" y="1724" width="7" height="2.6" fill="#f07050"/><circle cx="951.1" cy="1710.2" r="10.7" fill="#fff" stroke="#f07050" stroke-width="3"/><rect x="947.6" y="1708.9" width="7" height="2.6" fill="#f07050"/><circle cx="1102.4" cy="1614.4" r="10.7" fill="#fff" stroke="#f07050" stroke-width="3"/><rect x="1098.9" y="1613.1" width="7" height="2.6" fill="#f07050"/><circle cx="1253.7" cy="1600.9" r="10.7" fill="#fff" stroke="#f07050" stroke-width="3"/><rect x="1250.2" y="1599.6" width="7" height="2.6" fill="#f07050"/><circle cx="1405.1" cy="1569.3" r="10.7" fill="#fff" stroke="#f07050" stroke-width="3"/><rect x="1401.6" y="1568" width="7" height="2.6" fill="#f07050"/>
<polyline points="497.2,1580.3 648.5,1512.3 799.8,1525.3 951.1,1514.1 1102.4,1532.3 1253.7,1568.6 1405.1,1568.3" fill="none" stroke="#6262b6" stroke-width="3.3" stroke-dasharray="30 26.6"/>
<polygon points="497.2,1564.1 483.2,1588.4 511.2,1588.4" fill="#fff" stroke="#6262b6" stroke-width="3.2" stroke-linejoin="round"/><rect x="493.7" y="1579" width="7" height="2.6" fill="#6262b6"/><polygon points="648.5,1496.1 634.5,1520.4 662.5,1520.4" fill="#fff" stroke="#6262b6" stroke-width="3.2" stroke-linejoin="round"/><rect x="645" y="1511" width="7" height="2.6" fill="#6262b6"/><polygon points="799.8,1509.1 785.8,1533.4 813.8,1533.4" fill="#fff" stroke="#6262b6" stroke-width="3.2" stroke-linejoin="round"/><rect x="796.3" y="1524" width="7" height="2.6" fill="#6262b6"/><polygon points="951.1,1497.9 937.1,1522.2 965.1,1522.2" fill="#fff" stroke="#6262b6" stroke-width="3.2" stroke-linejoin="round"/><rect x="947.6" y="1512.8" width="7" height="2.6" fill="#6262b6"/><polygon points="1102.4,1516.1 1088.4,1540.4 1116.4,1540.4" fill="#fff" stroke="#6262b6" stroke-width="3.2" stroke-linejoin="round"/><rect x="1098.9" y="1531" width="7" height="2.6" fill="#6262b6"/><polygon points="1253.7,1552.4 1239.7,1576.7 1267.7,1576.7" fill="#fff" stroke="#6262b6" stroke-width="3.2" stroke-linejoin="round"/><rect x="1250.2" y="1567.3" width="7" height="2.6" fill="#6262b6"/><polygon points="1405.1,1552.1 1391.1,1576.4 1419.1,1576.4" fill="#fff" stroke="#6262b6" stroke-width="3.2" stroke-linejoin="round"/><rect x="1401.6" y="1567" width="7" height="2.6" fill="#6262b6"/>
<g font-size="52">
<path d="M680.8 1262.5h125.5" stroke="#50bd70" stroke-width="3.3"/>
<polygon points="742.8,1248 730.3,1269.7 755.3,1269.7" fill="#50bd70" stroke="#50bd70" stroke-width="3" stroke-linejoin="round"/>
<text x="817.8" y="1280.8">H4V4-YF</text>
<path d="M680.8 1330.9h125.5" stroke="#f07050" stroke-width="3.3"/>
<polygon points="742.8,1345.4 730.3,1323.7 755.3,1323.7" fill="#f07050" stroke="#f07050" stroke-width="3" stroke-linejoin="round"/>
<text x="817.8" y="1349.2">H4V5-YF</text>
<path d="M680.8 1398.7h125.5" stroke="#6262b6" stroke-width="3.3"/>
<polygon points="742.8,1385.3 756.2,1398.7 742.8,1412.1 729.4,1398.7" fill="#6262b6" stroke="#6262b6" stroke-width="3" stroke-linejoin="round"/>
<text x="817.8" y="1417">H5V4-YF</text>
<path d="M1077.2 1262.5h125.5" stroke="#50bd70" stroke-width="3.3" stroke-dasharray="30 26.6"/>
<rect x="1130.3" y="1253.6" width="17.8" height="17.8" fill="#fff" stroke="#50bd70" stroke-width="2.8" stroke-linejoin="round"/><rect x="1135.7" y="1261.2" width="7" height="2.6" fill="#50bd70"/>
<text x="1214.2" y="1280.8">H4V4-WF</text>
<path d="M1077.2 1330.9h125.5" stroke="#f07050" stroke-width="3.3" stroke-dasharray="30 26.6"/>
<circle cx="1139.2" cy="1330.9" r="10.7" fill="#fff" stroke="#f07050" stroke-width="3"/><rect x="1135.7" y="1329.6" width="7" height="2.6" fill="#f07050"/>
<text x="1214.2" y="1349.2">H4V5-WF</text>
<path d="M1077.2 1398.7h125.5" stroke="#6262b6" stroke-width="3.3" stroke-dasharray="30 26.6"/>
<polygon points="1139.2,1384.4 1126.8,1405.9 1151.6,1405.9" fill="#fff" stroke="#6262b6" stroke-width="3.2" stroke-linejoin="round"/><rect x="1135.7" y="1397.4" width="7" height="2.6" fill="#6262b6"/>
<text x="1214.2" y="1417">H5V4-WF</text>
</g>
</g>
<g>
<g stroke="#211c1d" stroke-width="3" fill="none">
<path d="M1974.8 1236 V2003.5 H2959.9"/>
<path d="M1974.8 1237.5h21.8M1974.8 1365.2h21.8M1974.8 1492.8h21.8M1974.8 1620.5h21.8M1974.8 1748.2h21.8M1974.8 1875.8h21.8M2050.5 2003.5v-21.6M2201.8 2003.5v-21.6M2353.1 2003.5v-21.6M2504.5 2003.5v-21.6M2655.8 2003.5v-21.6M2807.1 2003.5v-21.6M2958.4 2003.5v-21.6"/>
</g>
<g font-size="52" text-anchor="end" word-spacing="2">
<text x="1932.8" y="1254.1">5 400</text>
<text x="1932.8" y="1381.8">3 600</text>
<text x="1932.8" y="1509.4">1 800</text>
<text x="1932.8" y="1637.1">0</text>
<text x="1932.8" y="1764.8"><tspan letter-spacing="2">−</tspan>1 800</text>
<text x="1932.8" y="1892.4"><tspan letter-spacing="2">−</tspan>3 600</text>
<text x="1932.8" y="2020.1"><tspan letter-spacing="2">−</tspan>5 400</text>
</g>
<g font-size="52" text-anchor="end">
<text transform="translate(2086.8 2064.9) rotate(-45)">T4-1</text>
<text transform="translate(2238.1 2064.9) rotate(-45)">T4-2</text>
<text transform="translate(2389.4 2064.9) rotate(-45)">T4-3</text>
<text transform="translate(2540.8 2064.9) rotate(-45)">T4-4</text>
<text transform="translate(2692.1 2064.9) rotate(-45)">T4-5</text>
<text transform="translate(2843.4 2064.9) rotate(-45)">T4-6</text>
<text transform="translate(2994.7 2064.9) rotate(-45)">T4-7</text>
</g>
<text transform="translate(1736.9 1619.7) rotate(-90)" text-anchor="middle" font-size="51.5">升力<tspan font-size="52">/N</tspan></text>
<text x="2466.3" y="2217.1" text-anchor="middle" font-size="51.2">构件编号</text>
<text x="2204.8" y="2311.2" font-size="49">（</text>
<text x="2264.2" y="2314.2" font-size="60">d</text>
<text x="2295.1" y="2311.2" font-size="49">）</text>
<text x="2333.2" y="2314.2" font-size="60">T4</text>
<text x="2416.7" y="2315.6" font-size="62.7">层托木升力</text>
<polyline points="2050.1,1617.7 2201.4,1556.8 2352.7,1619.3 2504,1618.4 2655.3,1618.4 2806.7,1618.5 2958,1617" fill="none" stroke="#50bd70" stroke-width="3.3"/>
<rect x="2040.7" y="1608.3" width="18.8" height="18.8" fill="#50bd70" stroke="#50bd70" stroke-width="3" stroke-linejoin="round"/><rect x="2192" y="1547.4" width="18.8" height="18.8" fill="#50bd70" stroke="#50bd70" stroke-width="3" stroke-linejoin="round"/><rect x="2343.3" y="1609.9" width="18.8" height="18.8" fill="#50bd70" stroke="#50bd70" stroke-width="3" stroke-linejoin="round"/><rect x="2494.6" y="1609" width="18.8" height="18.8" fill="#50bd70" stroke="#50bd70" stroke-width="3" stroke-linejoin="round"/><rect x="2645.9" y="1609" width="18.8" height="18.8" fill="#50bd70" stroke="#50bd70" stroke-width="3" stroke-linejoin="round"/><rect x="2797.2" y="1609.1" width="18.8" height="18.8" fill="#50bd70" stroke="#50bd70" stroke-width="3" stroke-linejoin="round"/><rect x="2948.6" y="1607.6" width="18.8" height="18.8" fill="#50bd70" stroke="#50bd70" stroke-width="3" stroke-linejoin="round"/>
<polyline points="2050.1,1799.8 2201.4,1545.8 2352.7,1628.6 2504,1624.3 2655.3,1623.9 2806.7,1617.5 2958,1615.8" fill="none" stroke="#f07050" stroke-width="3.3"/>
<circle cx="2050.1" cy="1799.8" r="12.3" fill="#f07050"/><circle cx="2201.4" cy="1545.8" r="12.3" fill="#f07050"/><circle cx="2352.7" cy="1628.6" r="12.3" fill="#f07050"/><circle cx="2504" cy="1624.3" r="12.3" fill="#f07050"/><circle cx="2655.3" cy="1623.9" r="12.3" fill="#f07050"/><circle cx="2806.7" cy="1617.5" r="12.3" fill="#f07050"/><circle cx="2958" cy="1615.8" r="12.3" fill="#f07050"/>
<polyline points="2050.1,1940.7 2201.4,1462.5 2352.7,1403.1 2504,1396.3 2655.3,1559.2 2806.7,1529.2 2958,1509.2" fill="none" stroke="#6262b6" stroke-width="3.3"/>
<polygon points="2050.1,1924.4 2035.9,1948.9 2064.2,1948.9" fill="#6262b6" stroke="#6262b6" stroke-width="3" stroke-linejoin="round"/><polygon points="2201.4,1446.2 2187.2,1470.7 2215.5,1470.7" fill="#6262b6" stroke="#6262b6" stroke-width="3" stroke-linejoin="round"/><polygon points="2352.7,1386.8 2338.5,1411.3 2366.8,1411.3" fill="#6262b6" stroke="#6262b6" stroke-width="3" stroke-linejoin="round"/><polygon points="2504,1380 2489.9,1404.5 2518.2,1404.5" fill="#6262b6" stroke="#6262b6" stroke-width="3" stroke-linejoin="round"/><polygon points="2655.3,1542.9 2641.2,1567.4 2669.5,1567.4" fill="#6262b6" stroke="#6262b6" stroke-width="3" stroke-linejoin="round"/><polygon points="2806.7,1512.9 2792.5,1537.4 2820.8,1537.4" fill="#6262b6" stroke="#6262b6" stroke-width="3" stroke-linejoin="round"/><polygon points="2958,1492.9 2943.8,1517.4 2972.1,1517.4" fill="#6262b6" stroke="#6262b6" stroke-width="3" stroke-linejoin="round"/>
<polyline points="2050.1,1603 2201.4,1545.2 2352.7,1638.8 2504,1600.8 2655.3,1623.2 2806.7,1618.1 2958,1616" fill="none" stroke="#50bd70" stroke-width="3.3" stroke-dasharray="30 26.6"/>
<rect x="2041.2" y="1594.1" width="17.8" height="17.8" fill="#fff" stroke="#50bd70" stroke-width="2.8" stroke-linejoin="round"/><rect x="2046.6" y="1601.7" width="7" height="2.6" fill="#50bd70"/><rect x="2192.5" y="1536.3" width="17.8" height="17.8" fill="#fff" stroke="#50bd70" stroke-width="2.8" stroke-linejoin="round"/><rect x="2197.9" y="1543.9" width="7" height="2.6" fill="#50bd70"/><rect x="2343.8" y="1629.9" width="17.8" height="17.8" fill="#fff" stroke="#50bd70" stroke-width="2.8" stroke-linejoin="round"/><rect x="2349.2" y="1637.5" width="7" height="2.6" fill="#50bd70"/><rect x="2495.1" y="1591.9" width="17.8" height="17.8" fill="#fff" stroke="#50bd70" stroke-width="2.8" stroke-linejoin="round"/><rect x="2500.5" y="1599.5" width="7" height="2.6" fill="#50bd70"/><rect x="2646.4" y="1614.3" width="17.8" height="17.8" fill="#fff" stroke="#50bd70" stroke-width="2.8" stroke-linejoin="round"/><rect x="2651.8" y="1621.9" width="7" height="2.6" fill="#50bd70"/><rect x="2797.8" y="1609.2" width="17.8" height="17.8" fill="#fff" stroke="#50bd70" stroke-width="2.8" stroke-linejoin="round"/><rect x="2803.2" y="1616.8" width="7" height="2.6" fill="#50bd70"/><rect x="2949.1" y="1607.1" width="17.8" height="17.8" fill="#fff" stroke="#50bd70" stroke-width="2.8" stroke-linejoin="round"/><rect x="2954.5" y="1614.7" width="7" height="2.6" fill="#50bd70"/>
<polyline points="2050.1,1701.9 2201.4,1325.4 2352.7,1563.1 2504,1616 2655.3,1607.5 2806.7,1611 2958,1597.7" fill="none" stroke="#f07050" stroke-width="3.3" stroke-dasharray="30 26.6"/>
<circle cx="2050.1" cy="1701.9" r="10.7" fill="#fff" stroke="#f07050" stroke-width="3"/><rect x="2046.6" y="1700.6" width="7" height="2.6" fill="#f07050"/><circle cx="2201.4" cy="1325.4" r="10.7" fill="#fff" stroke="#f07050" stroke-width="3"/><rect x="2197.9" y="1324.1" width="7" height="2.6" fill="#f07050"/><circle cx="2352.7" cy="1563.1" r="10.7" fill="#fff" stroke="#f07050" stroke-width="3"/><rect x="2349.2" y="1561.8" width="7" height="2.6" fill="#f07050"/><circle cx="2504" cy="1616" r="10.7" fill="#fff" stroke="#f07050" stroke-width="3"/><rect x="2500.5" y="1614.7" width="7" height="2.6" fill="#f07050"/><circle cx="2655.3" cy="1607.5" r="10.7" fill="#fff" stroke="#f07050" stroke-width="3"/><rect x="2651.8" y="1606.2" width="7" height="2.6" fill="#f07050"/><circle cx="2806.7" cy="1611" r="10.7" fill="#fff" stroke="#f07050" stroke-width="3"/><rect x="2803.2" y="1609.7" width="7" height="2.6" fill="#f07050"/><circle cx="2958" cy="1597.7" r="10.7" fill="#fff" stroke="#f07050" stroke-width="3"/><rect x="2954.5" y="1596.4" width="7" height="2.6" fill="#f07050"/>
<polyline points="2050.1,1691.6 2201.4,1437.6 2352.7,1467.6 2504,1414.2 2655.3,1494.3 2806.7,1555.5 2958,1544.2" fill="none" stroke="#6262b6" stroke-width="3.3" stroke-dasharray="30 26.6"/>
<polygon points="2050.1,1675.4 2036.1,1699.7 2064.1,1699.7" fill="#fff" stroke="#6262b6" stroke-width="3.2" stroke-linejoin="round"/><rect x="2046.6" y="1690.3" width="7" height="2.6" fill="#6262b6"/><polygon points="2201.4,1421.4 2187.4,1445.7 2215.4,1445.7" fill="#fff" stroke="#6262b6" stroke-width="3.2" stroke-linejoin="round"/><rect x="2197.9" y="1436.3" width="7" height="2.6" fill="#6262b6"/><polygon points="2352.7,1451.4 2338.7,1475.7 2366.7,1475.7" fill="#fff" stroke="#6262b6" stroke-width="3.2" stroke-linejoin="round"/><rect x="2349.2" y="1466.3" width="7" height="2.6" fill="#6262b6"/><polygon points="2504,1398 2490,1422.3 2518,1422.3" fill="#fff" stroke="#6262b6" stroke-width="3.2" stroke-linejoin="round"/><rect x="2500.5" y="1412.9" width="7" height="2.6" fill="#6262b6"/><polygon points="2655.3,1478.1 2641.3,1502.4 2669.3,1502.4" fill="#fff" stroke="#6262b6" stroke-width="3.2" stroke-linejoin="round"/><rect x="2651.8" y="1493" width="7" height="2.6" fill="#6262b6"/><polygon points="2806.7,1539.3 2792.7,1563.6 2820.7,1563.6" fill="#fff" stroke="#6262b6" stroke-width="3.2" stroke-linejoin="round"/><rect x="2803.2" y="1554.2" width="7" height="2.6" fill="#6262b6"/><polygon points="2958,1528 2944,1552.3 2972,1552.3" fill="#fff" stroke="#6262b6" stroke-width="3.2" stroke-linejoin="round"/><rect x="2954.5" y="1542.9" width="7" height="2.6" fill="#6262b6"/>
<g font-size="52">
<path d="M2253.6 1812.5h125.5" stroke="#50bd70" stroke-width="3.3"/>
<rect x="2306.2" y="1803.1" width="18.8" height="18.8" fill="#50bd70" stroke="#50bd70" stroke-width="3" stroke-linejoin="round"/>
<text x="2390.6" y="1830.8">H4V4-YF</text>
<path d="M2253.6 1880.9h125.5" stroke="#f07050" stroke-width="3.3"/>
<circle cx="2315.6" cy="1880.9" r="12.3" fill="#f07050"/>
<text x="2390.6" y="1899.2">H4V5-YF</text>
<path d="M2253.6 1948.7h125.5" stroke="#6262b6" stroke-width="3.3"/>
<polygon points="2315.6,1934.2 2303.1,1955.9 2328.1,1955.9" fill="#6262b6" stroke="#6262b6" stroke-width="3" stroke-linejoin="round"/>
<text x="2390.6" y="1967">H5V4-YF</text>
<path d="M2650 1812.5h125.5" stroke="#50bd70" stroke-width="3.3" stroke-dasharray="30 26.6"/>
<rect x="2703.1" y="1803.6" width="17.8" height="17.8" fill="#fff" stroke="#50bd70" stroke-width="2.8" stroke-linejoin="round"/><rect x="2708.5" y="1811.2" width="7" height="2.6" fill="#50bd70"/>
<text x="2787" y="1830.8">H4V4-WF</text>
<path d="M2650 1880.9h125.5" stroke="#f07050" stroke-width="3.3" stroke-dasharray="30 26.6"/>
<circle cx="2712" cy="1880.9" r="10.7" fill="#fff" stroke="#f07050" stroke-width="3"/><rect x="2708.5" y="1879.6" width="7" height="2.6" fill="#f07050"/>
<text x="2787" y="1899.2">H4V5-WF</text>
<path d="M2650 1948.7h125.5" stroke="#6262b6" stroke-width="3.3" stroke-dasharray="30 26.6"/>
<polygon points="2712,1934.4 2699.6,1955.9 2724.4,1955.9" fill="#fff" stroke="#6262b6" stroke-width="3.2" stroke-linejoin="round"/><rect x="2708.5" y="1947.4" width="7" height="2.6" fill="#6262b6"/>
<text x="2787" y="1967">H5V4-WF</text>
</g>
</g>
</svg>
</body></html>
